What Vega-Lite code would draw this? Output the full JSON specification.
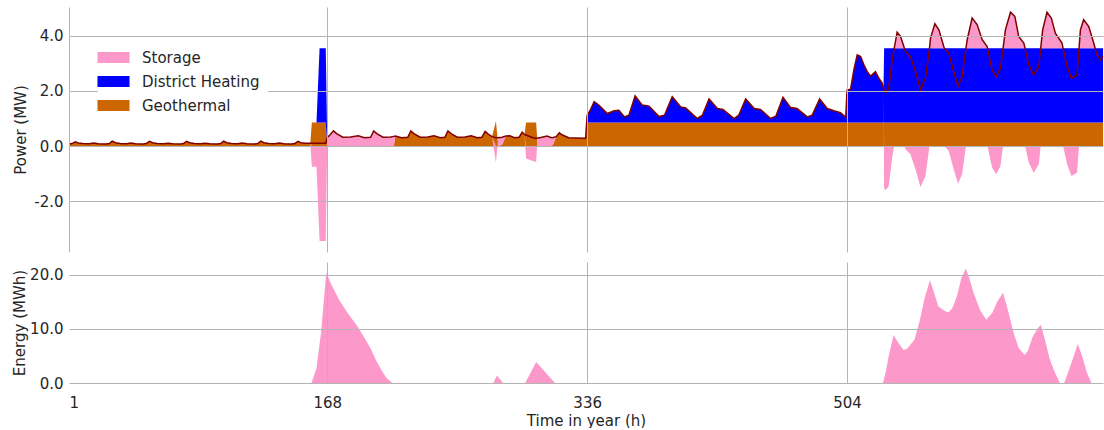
{
"$schema": "https://vega.github.io/schema/vega-lite/v6.json",
"padding": {"left": 12, "top": 7, "right": 0, "bottom": 0},
"spacing": 10,
"config": {
 "view": {"stroke": null},
 "font": "DejaVu Sans",
 "axis": {"domain": false, "ticks": false, "tickSize": 0, "labelFont": "DejaVu Sans", "labelFontSize": 15, "titleFont": "DejaVu Sans", "titleFontSize": 15, "titleFontWeight": "normal", "labelColor": "#262626", "titleColor": "#262626", "gridColor": "#b4b4b4", "gridWidth": 1, "labelPadding": 6}
},
"datasets": {
 "series": [
  {"key": "geo", "source": "Geothermal", "rank": 0},
  {"key": "dh", "source": "District Heating", "rank": 1},
  {"key": "sto", "source": "Storage", "rank": 2}
 ],
 "power": [
  {"h":1,"geo":0.07,"dh":0,"sto":0,"dem":0.07},
  {"h":3,"geo":0.09,"dh":0,"sto":0,"dem":0.09},
  {"h":5,"geo":0.15,"dh":0,"sto":0,"dem":0.15},
  {"h":7,"geo":0.11,"dh":0,"sto":0,"dem":0.11},
  {"h":10,"geo":0.09,"dh":0,"sto":0,"dem":0.09},
  {"h":14,"geo":0.08,"dh":0,"sto":0,"dem":0.08},
  {"h":17,"geo":0.11,"dh":0,"sto":0,"dem":0.11},
  {"h":20,"geo":0.08,"dh":0,"sto":0,"dem":0.08},
  {"h":25,"geo":0.07,"dh":0,"sto":0,"dem":0.07},
  {"h":27,"geo":0.09,"dh":0,"sto":0,"dem":0.09},
  {"h":29,"geo":0.18,"dh":0,"sto":0,"dem":0.18},
  {"h":31,"geo":0.12,"dh":0,"sto":0,"dem":0.12},
  {"h":34,"geo":0.09,"dh":0,"sto":0,"dem":0.09},
  {"h":38,"geo":0.08,"dh":0,"sto":0,"dem":0.08},
  {"h":41,"geo":0.11,"dh":0,"sto":0,"dem":0.11},
  {"h":44,"geo":0.08,"dh":0,"sto":0,"dem":0.08},
  {"h":49,"geo":0.07,"dh":0,"sto":0,"dem":0.07},
  {"h":51,"geo":0.09,"dh":0,"sto":0,"dem":0.09},
  {"h":53,"geo":0.17,"dh":0,"sto":0,"dem":0.17},
  {"h":55,"geo":0.12,"dh":0,"sto":0,"dem":0.12},
  {"h":58,"geo":0.09,"dh":0,"sto":0,"dem":0.09},
  {"h":62,"geo":0.08,"dh":0,"sto":0,"dem":0.08},
  {"h":65,"geo":0.10,"dh":0,"sto":0,"dem":0.10},
  {"h":68,"geo":0.08,"dh":0,"sto":0,"dem":0.08},
  {"h":73,"geo":0.07,"dh":0,"sto":0,"dem":0.07},
  {"h":75,"geo":0.09,"dh":0,"sto":0,"dem":0.09},
  {"h":77,"geo":0.17,"dh":0,"sto":0,"dem":0.17},
  {"h":79,"geo":0.12,"dh":0,"sto":0,"dem":0.12},
  {"h":82,"geo":0.09,"dh":0,"sto":0,"dem":0.09},
  {"h":86,"geo":0.08,"dh":0,"sto":0,"dem":0.08},
  {"h":89,"geo":0.10,"dh":0,"sto":0,"dem":0.10},
  {"h":92,"geo":0.08,"dh":0,"sto":0,"dem":0.08},
  {"h":97,"geo":0.07,"dh":0,"sto":0,"dem":0.07},
  {"h":99,"geo":0.09,"dh":0,"sto":0,"dem":0.09},
  {"h":101,"geo":0.18,"dh":0,"sto":0,"dem":0.18},
  {"h":103,"geo":0.12,"dh":0,"sto":0,"dem":0.12},
  {"h":106,"geo":0.09,"dh":0,"sto":0,"dem":0.09},
  {"h":110,"geo":0.08,"dh":0,"sto":0,"dem":0.08},
  {"h":113,"geo":0.11,"dh":0,"sto":0,"dem":0.11},
  {"h":116,"geo":0.08,"dh":0,"sto":0,"dem":0.08},
  {"h":121,"geo":0.07,"dh":0,"sto":0,"dem":0.07},
  {"h":123,"geo":0.09,"dh":0,"sto":0,"dem":0.09},
  {"h":125,"geo":0.18,"dh":0,"sto":0,"dem":0.18},
  {"h":127,"geo":0.12,"dh":0,"sto":0,"dem":0.12},
  {"h":130,"geo":0.09,"dh":0,"sto":0,"dem":0.09},
  {"h":134,"geo":0.08,"dh":0,"sto":0,"dem":0.08},
  {"h":137,"geo":0.11,"dh":0,"sto":0,"dem":0.11},
  {"h":140,"geo":0.08,"dh":0,"sto":0,"dem":0.08},
  {"h":145,"geo":0.07,"dh":0,"sto":0,"dem":0.07},
  {"h":147,"geo":0.09,"dh":0,"sto":0,"dem":0.09},
  {"h":149,"geo":0.17,"dh":0,"sto":0,"dem":0.17},
  {"h":151,"geo":0.12,"dh":0,"sto":0,"dem":0.12},
  {"h":154,"geo":0.10,"dh":0,"sto":0,"dem":0.10},
  {"h":157,"geo":0.10,"dh":0,"sto":0,"dem":0.10},
  {"h":158,"geo":0.85,"dh":0,"sto":-0.75,"dem":0.10},
  {"h":161,"geo":0.85,"dh":0,"sto":-0.75,"dem":0.10},
  {"h":163,"geo":0.85,"dh":2.7,"sto":-3.45,"dem":0.10},
  {"h":167,"geo":0.85,"dh":2.7,"sto":-3.45,"dem":0.10},
  {"h":168,"geo":0,"dh":0,"sto":0.31,"dem":0.31},
  {"h":170,"geo":0,"dh":0,"sto":0.42,"dem":0.42},
  {"h":172,"geo":0,"dh":0,"sto":0.55,"dem":0.55},
  {"h":174,"geo":0,"dh":0,"sto":0.45,"dem":0.45},
  {"h":178,"geo":0,"dh":0,"sto":0.32,"dem":0.32},
  {"h":183,"geo":0,"dh":0,"sto":0.33,"dem":0.33},
  {"h":188,"geo":0,"dh":0,"sto":0.37,"dem":0.37},
  {"h":192,"geo":0,"dh":0,"sto":0.30,"dem":0.30},
  {"h":196,"geo":0,"dh":0,"sto":0.32,"dem":0.32},
  {"h":198,"geo":0,"dh":0,"sto":0.55,"dem":0.55},
  {"h":200,"geo":0,"dh":0,"sto":0.45,"dem":0.45},
  {"h":204,"geo":0,"dh":0,"sto":0.32,"dem":0.32},
  {"h":209,"geo":0,"dh":0,"sto":0.33,"dem":0.33},
  {"h":211,"geo":0,"dh":0,"sto":0.35,"dem":0.35},
  {"h":212,"geo":0.36,"dh":0,"sto":0,"dem":0.36},
  {"h":216,"geo":0.30,"dh":0,"sto":0,"dem":0.30},
  {"h":220,"geo":0.32,"dh":0,"sto":0,"dem":0.32},
  {"h":222,"geo":0.55,"dh":0,"sto":0,"dem":0.55},
  {"h":224,"geo":0.45,"dh":0,"sto":0,"dem":0.45},
  {"h":228,"geo":0.32,"dh":0,"sto":0,"dem":0.32},
  {"h":233,"geo":0.33,"dh":0,"sto":0,"dem":0.33},
  {"h":237,"geo":0.37,"dh":0,"sto":0,"dem":0.37},
  {"h":241,"geo":0.30,"dh":0,"sto":0,"dem":0.30},
  {"h":244,"geo":0.32,"dh":0,"sto":0,"dem":0.32},
  {"h":246,"geo":0.55,"dh":0,"sto":0,"dem":0.55},
  {"h":248,"geo":0.45,"dh":0,"sto":0,"dem":0.45},
  {"h":252,"geo":0.32,"dh":0,"sto":0,"dem":0.32},
  {"h":257,"geo":0.33,"dh":0,"sto":0,"dem":0.33},
  {"h":261,"geo":0.37,"dh":0,"sto":0,"dem":0.37},
  {"h":265,"geo":0.30,"dh":0,"sto":0,"dem":0.30},
  {"h":268,"geo":0.32,"dh":0,"sto":0,"dem":0.32},
  {"h":270,"geo":0.53,"dh":0,"sto":0,"dem":0.53},
  {"h":272,"geo":0.43,"dh":0,"sto":0,"dem":0.43},
  {"h":274.5,"geo":0.34,"dh":0,"sto":0,"dem":0.34},
  {"h":277,"geo":0.90,"dh":0,"sto":-0.60,"dem":0.30},
  {"h":278.6,"geo":0,"dh":0,"sto":0.30,"dem":0.30},
  {"h":281,"geo":0.05,"dh":0,"sto":0.27,"dem":0.32},
  {"h":283.5,"geo":0.36,"dh":0,"sto":0,"dem":0.36},
  {"h":286,"geo":0.37,"dh":0,"sto":0,"dem":0.37},
  {"h":289,"geo":0.30,"dh":0,"sto":0,"dem":0.30},
  {"h":292,"geo":0.32,"dh":0,"sto":0,"dem":0.32},
  {"h":294,"geo":0.50,"dh":0,"sto":0,"dem":0.50},
  {"h":295.5,"geo":0.42,"dh":0,"sto":0,"dem":0.42},
  {"h":296.5,"geo":0.85,"dh":0,"sto":-0.45,"dem":0.40},
  {"h":300,"geo":0.85,"dh":0,"sto":-0.53,"dem":0.32},
  {"h":303,"geo":0.85,"dh":0,"sto":-0.58,"dem":0.27},
  {"h":304,"geo":0,"dh":0,"sto":0.29,"dem":0.29},
  {"h":306,"geo":0,"dh":0,"sto":0.31,"dem":0.31},
  {"h":310,"geo":0,"dh":0,"sto":0.36,"dem":0.36},
  {"h":313,"geo":0,"dh":0,"sto":0.30,"dem":0.30},
  {"h":314,"geo":0.06,"dh":0,"sto":0.25,"dem":0.31},
  {"h":316,"geo":0.34,"dh":0,"sto":0,"dem":0.34},
  {"h":318,"geo":0.48,"dh":0,"sto":0,"dem":0.48},
  {"h":320,"geo":0.40,"dh":0,"sto":0,"dem":0.40},
  {"h":324,"geo":0.30,"dh":0,"sto":0,"dem":0.30},
  {"h":329,"geo":0.29,"dh":0,"sto":0,"dem":0.29},
  {"h":335,"geo":0.28,"dh":0,"sto":0,"dem":0.28},
  {"h":336,"geo":0.85,"dh":0.27,"sto":0,"dem":1.12},
  {"h":338,"geo":0.85,"dh":0.45,"sto":0,"dem":1.30},
  {"h":340.5,"geo":0.85,"dh":0.76,"sto":0,"dem":1.61},
  {"h":343.5,"geo":0.85,"dh":0.64,"sto":0,"dem":1.49},
  {"h":349,"geo":0.85,"dh":0.33,"sto":0,"dem":1.18},
  {"h":353.5,"geo":0.85,"dh":0.43,"sto":0,"dem":1.28},
  {"h":356.5,"geo":0.85,"dh":0.45,"sto":0,"dem":1.30},
  {"h":360,"geo":0.85,"dh":0.21,"sto":0,"dem":1.06},
  {"h":363,"geo":0.85,"dh":0.27,"sto":0,"dem":1.12},
  {"h":367,"geo":0.85,"dh":0.97,"sto":0,"dem":1.82},
  {"h":371.5,"geo":0.85,"dh":0.64,"sto":0,"dem":1.49},
  {"h":376,"geo":0.85,"dh":0.60,"sto":0,"dem":1.45},
  {"h":382.5,"geo":0.85,"dh":0.22,"sto":0,"dem":1.07},
  {"h":386,"geo":0.85,"dh":0.27,"sto":0,"dem":1.12},
  {"h":391,"geo":0.85,"dh":0.94,"sto":0,"dem":1.79},
  {"h":396.5,"geo":0.85,"dh":0.57,"sto":0,"dem":1.42},
  {"h":399.7,"geo":0.85,"dh":0.53,"sto":0,"dem":1.38},
  {"h":407.2,"geo":0.85,"dh":0.15,"sto":0,"dem":1.00},
  {"h":410.5,"geo":0.85,"dh":0.27,"sto":0,"dem":1.12},
  {"h":414.8,"geo":0.85,"dh":0.86,"sto":0,"dem":1.71},
  {"h":420.2,"geo":0.85,"dh":0.51,"sto":0,"dem":1.36},
  {"h":423.8,"geo":0.85,"dh":0.48,"sto":0,"dem":1.33},
  {"h":431,"geo":0.85,"dh":0.15,"sto":0,"dem":1.00},
  {"h":434,"geo":0.85,"dh":0.27,"sto":0,"dem":1.12},
  {"h":438.5,"geo":0.85,"dh":0.86,"sto":0,"dem":1.71},
  {"h":444,"geo":0.85,"dh":0.51,"sto":0,"dem":1.36},
  {"h":448,"geo":0.85,"dh":0.48,"sto":0,"dem":1.33},
  {"h":454.6,"geo":0.85,"dh":0.15,"sto":0,"dem":1.00},
  {"h":458,"geo":0.85,"dh":0.23,"sto":0,"dem":1.08},
  {"h":462.6,"geo":0.85,"dh":0.92,"sto":0,"dem":1.77},
  {"h":467.5,"geo":0.85,"dh":0.55,"sto":0,"dem":1.40},
  {"h":471.7,"geo":0.85,"dh":0.51,"sto":0,"dem":1.36},
  {"h":478.3,"geo":0.85,"dh":0.21,"sto":0,"dem":1.06},
  {"h":481.5,"geo":0.85,"dh":0.27,"sto":0,"dem":1.12},
  {"h":486.3,"geo":0.85,"dh":0.86,"sto":0,"dem":1.71},
  {"h":491.2,"geo":0.85,"dh":0.51,"sto":0,"dem":1.36},
  {"h":495.5,"geo":0.85,"dh":0.43,"sto":0,"dem":1.28},
  {"h":499.8,"geo":0.85,"dh":0.36,"sto":0,"dem":1.21},
  {"h":503.2,"geo":0.85,"dh":0.19,"sto":0,"dem":1.04},
  {"h":504,"geo":0.85,"dh":1.18,"sto":0,"dem":2.03},
  {"h":506.3,"geo":0.85,"dh":1.21,"sto":0,"dem":2.06},
  {"h":508.4,"geo":0.85,"dh":1.91,"sto":0,"dem":2.76},
  {"h":510.6,"geo":0.85,"dh":2.46,"sto":0,"dem":3.31},
  {"h":512.8,"geo":0.85,"dh":2.40,"sto":0,"dem":3.25},
  {"h":514.9,"geo":0.85,"dh":2.10,"sto":0,"dem":2.95},
  {"h":517.1,"geo":0.85,"dh":1.85,"sto":0,"dem":2.70},
  {"h":519.2,"geo":0.85,"dh":1.69,"sto":0,"dem":2.54},
  {"h":522.4,"geo":0.85,"dh":1.85,"sto":0,"dem":2.70},
  {"h":524.6,"geo":0.85,"dh":1.61,"sto":0,"dem":2.46},
  {"h":526.8,"geo":0.85,"dh":1.43,"sto":0,"dem":2.28},
  {"h":527.6,"geo":0.85,"dh":1.25,"sto":0,"dem":2.10},
  {"h":528,"geo":0.85,"dh":2.7,"sto":-1.53,"dem":2.02},
  {"h":529,"geo":0.85,"dh":2.7,"sto":-1.61,"dem":1.94},
  {"h":531,"geo":0.85,"dh":2.7,"sto":-1.45,"dem":2.10},
  {"h":533.2,"geo":0.85,"dh":2.7,"sto":-0.42,"dem":3.13},
  {"h":534.5,"geo":0.85,"dh":2.7,"sto":-0.001,"dem":3.55},
  {"h":534.51,"geo":0.85,"dh":2.7,"sto":0,"dem":3.55},
  {"h":536.4,"geo":0.85,"dh":2.7,"sto":0.58,"dem":4.13},
  {"h":538.6,"geo":0.85,"dh":2.7,"sto":0.43,"dem":3.98},
  {"h":541.1,"geo":0.85,"dh":2.7,"sto":0,"dem":3.55},
  {"h":541.11,"geo":0.85,"dh":2.7,"sto":-0.001,"dem":3.55},
  {"h":541.8,"geo":0.85,"dh":2.7,"sto":-0.12,"dem":3.43},
  {"h":545,"geo":0.85,"dh":2.7,"sto":-0.30,"dem":3.25},
  {"h":548.3,"geo":0.85,"dh":2.7,"sto":-0.85,"dem":2.70},
  {"h":551.5,"geo":0.85,"dh":2.7,"sto":-1.49,"dem":2.06},
  {"h":554.7,"geo":0.85,"dh":2.7,"sto":-1.09,"dem":2.46},
  {"h":556.5,"geo":0.85,"dh":2.7,"sto":-0.35,"dem":3.20},
  {"h":557.3,"geo":0.85,"dh":2.7,"sto":-0.001,"dem":3.55},
  {"h":557.31,"geo":0.85,"dh":2.7,"sto":0,"dem":3.55},
  {"h":558,"geo":0.85,"dh":2.7,"sto":0.37,"dem":3.92},
  {"h":560.8,"geo":0.85,"dh":2.7,"sto":0.89,"dem":4.44},
  {"h":563.4,"geo":0.85,"dh":2.7,"sto":0.67,"dem":4.22},
  {"h":566.6,"geo":0.85,"dh":2.7,"sto":0.06,"dem":3.61},
  {"h":567,"geo":0.85,"dh":2.7,"sto":0,"dem":3.55},
  {"h":567.01,"geo":0.85,"dh":2.7,"sto":-0.001,"dem":3.55},
  {"h":569.8,"geo":0.85,"dh":2.7,"sto":-0.18,"dem":3.37},
  {"h":573,"geo":0.85,"dh":2.7,"sto":-0.85,"dem":2.70},
  {"h":575.8,"geo":0.85,"dh":2.7,"sto":-1.37,"dem":2.18},
  {"h":578.4,"geo":0.85,"dh":2.7,"sto":-1.03,"dem":2.52},
  {"h":580.9,"geo":0.85,"dh":2.7,"sto":-0.001,"dem":3.55},
  {"h":580.91,"geo":0.85,"dh":2.7,"sto":0,"dem":3.55},
  {"h":581.7,"geo":0.85,"dh":2.7,"sto":0.31,"dem":3.86},
  {"h":584.9,"geo":0.85,"dh":2.7,"sto":1.10,"dem":4.65},
  {"h":588.1,"geo":0.85,"dh":2.7,"sto":0.86,"dem":4.41},
  {"h":591.4,"geo":0.85,"dh":2.7,"sto":0.31,"dem":3.86},
  {"h":594.6,"geo":0.85,"dh":2.7,"sto":0.06,"dem":3.61},
  {"h":594.8,"geo":0.85,"dh":2.7,"sto":0,"dem":3.55},
  {"h":594.81,"geo":0.85,"dh":2.7,"sto":-0.001,"dem":3.55},
  {"h":597.8,"geo":0.85,"dh":2.7,"sto":-0.79,"dem":2.76},
  {"h":600.5,"geo":0.85,"dh":2.7,"sto":-1.03,"dem":2.52},
  {"h":603.2,"geo":0.85,"dh":2.7,"sto":-0.73,"dem":2.82},
  {"h":604.9,"geo":0.85,"dh":2.7,"sto":-0.001,"dem":3.55},
  {"h":604.91,"geo":0.85,"dh":2.7,"sto":0,"dem":3.55},
  {"h":606.4,"geo":0.85,"dh":2.7,"sto":0.67,"dem":4.22},
  {"h":609.7,"geo":0.85,"dh":2.7,"sto":1.31,"dem":4.86},
  {"h":612.5,"geo":0.85,"dh":2.7,"sto":1.16,"dem":4.71},
  {"h":615,"geo":0.85,"dh":2.7,"sto":0.43,"dem":3.98},
  {"h":618.3,"geo":0.85,"dh":2.7,"sto":0.19,"dem":3.74},
  {"h":619.1,"geo":0.85,"dh":2.7,"sto":0,"dem":3.55},
  {"h":619.11,"geo":0.85,"dh":2.7,"sto":-0.001,"dem":3.55},
  {"h":621.5,"geo":0.85,"dh":2.7,"sto":-0.60,"dem":2.95},
  {"h":624.7,"geo":0.85,"dh":2.7,"sto":-0.97,"dem":2.58},
  {"h":628,"geo":0.85,"dh":2.7,"sto":-0.66,"dem":2.89},
  {"h":629.2,"geo":0.85,"dh":2.7,"sto":-0.001,"dem":3.55},
  {"h":629.21,"geo":0.85,"dh":2.7,"sto":0,"dem":3.55},
  {"h":630.5,"geo":0.85,"dh":2.7,"sto":0.67,"dem":4.22},
  {"h":633.3,"geo":0.85,"dh":2.7,"sto":1.31,"dem":4.86},
  {"h":636.1,"geo":0.85,"dh":2.7,"sto":1.10,"dem":4.65},
  {"h":638.7,"geo":0.85,"dh":2.7,"sto":0.55,"dem":4.10},
  {"h":643,"geo":0.85,"dh":2.7,"sto":0.19,"dem":3.74},
  {"h":643.7,"geo":0.85,"dh":2.7,"sto":0,"dem":3.55},
  {"h":643.71,"geo":0.85,"dh":2.7,"sto":-0.001,"dem":3.55},
  {"h":646.3,"geo":0.85,"dh":2.7,"sto":-0.66,"dem":2.89},
  {"h":649.1,"geo":0.85,"dh":2.7,"sto":-1.09,"dem":2.46},
  {"h":652.7,"geo":0.85,"dh":2.7,"sto":-0.97,"dem":2.58},
  {"h":654,"geo":0.85,"dh":2.7,"sto":-0.001,"dem":3.55},
  {"h":654.01,"geo":0.85,"dh":2.7,"sto":0,"dem":3.55},
  {"h":654.9,"geo":0.85,"dh":2.7,"sto":0.67,"dem":4.22},
  {"h":657,"geo":0.85,"dh":2.7,"sto":1.04,"dem":4.59},
  {"h":660.3,"geo":0.85,"dh":2.7,"sto":0.79,"dem":4.34},
  {"h":663.5,"geo":0.85,"dh":2.7,"sto":0.19,"dem":3.74},
  {"h":664.4,"geo":0.85,"dh":2.7,"sto":0,"dem":3.55},
  {"h":665.6,"geo":0.85,"dh":2.7,"sto":0,"dem":3.31},
  {"h":667.8,"geo":0.85,"dh":2.7,"sto":0,"dem":3.13},
  {"h":669.5,"geo":0.85,"dh":2.7,"sto":0,"dem":3.25}
 ],
 "energy": [
  {"h":1,"e":0},{"h":157.7,"e":0},{"h":161,"e":2.7},{"h":164,"e":9.5},{"h":167.3,"e":20.4},
  {"h":171,"e":18.0},{"h":175.4,"e":15.5},{"h":181,"e":13.0},{"h":187,"e":10.7},{"h":192,"e":8.4},
  {"h":196,"e":6.4},{"h":199.5,"e":4.2},{"h":203,"e":2.4},{"h":206,"e":1.0},{"h":210,"e":0},
  {"h":275.4,"e":0},{"h":277.7,"e":1.4},{"h":281.6,"e":0},
  {"h":296,"e":0},{"h":303,"e":3.9},{"h":309,"e":2.0},{"h":315.2,"e":0},
  {"h":527.2,"e":0},{"h":529,"e":2},{"h":531,"e":5},{"h":534.1,"e":8.9},{"h":537,"e":7.5},
  {"h":540.6,"e":6.1},{"h":543,"e":6.4},{"h":547.6,"e":8.0},{"h":551,"e":11.5},{"h":554,"e":15.5},
  {"h":557.6,"e":19.0},{"h":560,"e":17.0},{"h":563,"e":14.2},{"h":567.3,"e":13.3},{"h":569.6,"e":13.1},
  {"h":572,"e":13.8},{"h":575,"e":16.0},{"h":578,"e":19.5},{"h":580.8,"e":21.2},{"h":583,"e":19.5},
  {"h":586,"e":16.5},{"h":590,"e":13.5},{"h":594,"e":11.7},{"h":598,"e":13.0},{"h":601,"e":15.0},
  {"h":604.9,"e":16.7},{"h":608,"e":13.5},{"h":612,"e":9.0},{"h":615,"e":6.5},{"h":618.8,"e":5.2},
  {"h":621,"e":6.0},{"h":624,"e":8.5},{"h":627,"e":10.0},{"h":629.3,"e":10.8},{"h":632,"e":8.0},
  {"h":635,"e":4.5},{"h":638,"e":2.2},{"h":641.6,"e":0},{"h":644.4,"e":0},{"h":647,"e":2.0},
  {"h":650,"e":4.5},{"h":653.2,"e":7.2},{"h":656,"e":5.0},{"h":659,"e":2.0},{"h":662,"e":0},{"h":669.5,"e":0}
 ]
},
"vconcat": [
 {
  "width": 1034,
  "height": 245,
  "data": {"name": "power"},
  "layer": [
   {
    "transform": [
     {"fold": ["geo", "dh", "sto"], "as": ["key", "mw"]},
     {"lookup": "key", "from": {"data": {"name": "series"}, "key": "key", "fields": ["source", "rank"]}}
    ],
    "mark": {"type": "area", "interpolate": "linear"},
    "encoding": {
     "x": {"field": "h", "type": "quantitative", "scale": {"domain": [1, 669.5], "nice": false, "zero": false},
           "axis": {"values": [1, 168, 336, 504], "labels": false, "title": null, "grid": true, "zindex": 1, "minExtent": 0, "maxExtent": 0}},
     "y": {"field": "mw", "type": "quantitative", "stack": "zero", "scale": {"domain": [-3.85, 5.05], "nice": false},
           "axis": {"values": [-2, 0, 2, 4], "labelExpr": "datum.value < 0 ? '-' + format(-datum.value, '.1f') : format(datum.value, '.1f')", "title": "Power (MW)", "titlePadding": 5, "zindex": 1}},
     "color": {"field": "source", "type": "nominal",
               "scale": {"domain": ["Storage", "District Heating", "Geothermal"], "range": ["#fc98ca", "#0000ff", "#cc6600"]},
               "legend": {"orient": "none", "legendX": 29, "legendY": 35, "title": null, "zindex": 2,
                          "symbolType": "M-2.67,-0.9H2.67V0.9H-2.67Z", "symbolSize": 144, "symbolStrokeWidth": 0,
                          "labelOffset": 21, "labelFont": "DejaVu Sans", "labelFontSize": 15, "labelColor": "#262626",
                          "fillColor": "white", "padding": 8, "rowPadding": 8}},
     "order": {"field": "rank", "type": "quantitative", "sort": "ascending"}
    }
   },
   {
    "mark": {"type": "line", "color": "#800000", "strokeWidth": 1.5},
    "encoding": {
     "x": {"field": "h", "type": "quantitative"},
     "y": {"field": "dem", "type": "quantitative"}
    }
   }
  ]
 },
 {
  "width": 1034,
  "height": 121,
  "data": {"name": "energy"},
  "mark": {"type": "area", "color": "#fc98ca"},
  "encoding": {
   "x": {"field": "h", "type": "quantitative", "scale": {"domain": [1, 669.5], "nice": false, "zero": false},
         "axis": {"values": [1, 168, 336, 504], "title": "Time in year (h)", "labelPadding": 12, "titlePadding": 3, "zindex": 1,
                  "gridOpacity": {"condition": {"test": "datum.value == 1", "value": 0}, "value": 1}}},
   "y": {"field": "e", "type": "quantitative", "scale": {"domain": [0, 22.4], "nice": false},
         "axis": {"values": [0, 10, 20], "format": ".1f", "title": "Energy (MWh)", "titlePadding": 2, "zindex": 1}}
  }
 }
]
}
